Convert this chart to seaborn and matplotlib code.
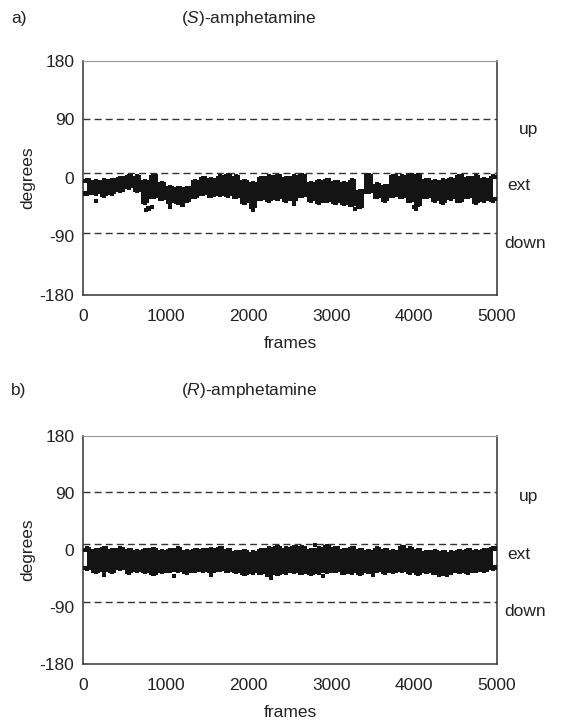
import numpy as np
import pandas as pd
import matplotlib
matplotlib.use("Agg")
import matplotlib.pyplot as plt
import matplotlib.transforms as mtransforms
import seaborn as sns

sns.set_style("white")
plt.rcParams['font.family'] = ['Liberation Sans', 'DejaVu Sans']
plt.rcParams['mathtext.fontset'] = 'custom'
plt.rcParams['mathtext.it'] = 'Liberation Sans:italic'

# ---- data, 100-frame bins ----
bin_centers = list(range(50, 5000, 100))

s_hi = [-3, -5, -4, -3, 0, 3, 2, -5, 3, -8,
        -14, -15, -15, -5, 0, -2, 2, 4, 2, -5,
        -8, 0, 2, 3, 0, 2, 4, -8, -5, -3,
        -6, -8, -4, -20, 4, -10, -12, 3, 2, 5,
        4, -3, -5, -4, -2, 3, 0, 2, -2, 2]
s_lo = [-25, -24, -27, -24, -20, -15, -20, -38, -30, -33,
        -38, -38, -36, -30, -25, -28, -26, -27, -30, -38,
        -45, -33, -35, -32, -35, -34, -28, -35, -38, -36,
        -38, -40, -42, -45, -22, -30, -35, -28, -30, -36,
        -42, -30, -35, -38, -32, -36, -30, -38, -35, -35]
s_out_x = [150, 760, 790, 830, 1050, 1200, 2050, 2550, 3290, 4000, 4020]
s_out_y = [-36, -50, -47, -45, -45, -42, -50, -40, -48, -45, -47]

r_hi = [2, 0, 3, 0, 2, 0, -2, 0, 1, -2,
        0, 2, -2, 0, 0, 1, 3, 0, -3, -2,
        -4, 0, 2, 4, 2, 5, 4, 0, 2, 6,
        3, 0, 3, 0, -2, 2, 0, -2, 5, 2,
        0, -3, -2, -3, -4, -2, 0, -2, 0, 3]
r_lo = [-30, -35, -33, -35, -30, -36, -33, -35, -38, -35,
        -34, -33, -36, -34, -33, -35, -32, -34, -35, -38,
        -36, -37, -40, -38, -36, -35, -37, -38, -36, -35,
        -34, -37, -36, -38, -35, -34, -36, -35, -33, -36,
        -38, -35, -37, -38, -36, -35, -36, -34, -33, -30]
r_out_x = [250, 1100, 1550, 2270, 2900, 3500, 4300, 4400, 3850, 2800]
r_out_y = [-40, -42, -40, -45, -42, -40, -40, -40, 5, 8]

yticks = [-180, -90, 0, 90, 180]
xticks = [0, 1000, 2000, 3000, 4000, 5000]

panels = [
    dict(letter="a)", name="S", hi=s_hi, lo=s_lo, ox=s_out_x, oy=s_out_y,
         dash=[90, 8, -85],
         labels=[("up", 75, 1.077), ("ext", -12, 1.052), ("down", -101, 1.068)],
         rect=[0.148, 0.592, 0.736, 0.324], title_y=0.974),
    dict(letter="b)", name="R", hi=r_hi, lo=r_lo, ox=r_out_x, oy=r_out_y,
         dash=[91, 10, -82],
         labels=[("up", 85, 1.077), ("ext", -8, 1.052), ("down", -98, 1.068)],
         rect=[0.148, 0.082, 0.736, 0.315], title_y=0.460),
]

fig = plt.figure(figsize=(5.62, 7.23), dpi=100)
dark = "#141414"
txt = "#222222"
fs = 12.5

for p in panels:
    ax = fig.add_axes(p["rect"])
    x = np.array(bin_centers)
    hi = np.array(p["hi"])
    lo = np.array(p["lo"])
    ax.fill_between(x, lo + 2, hi - 2, step="mid", color=dark, lw=0, zorder=2)
    df = pd.DataFrame({"f": np.concatenate([x, x, x - 25, x + 25, x - 25, x + 25]),
                       "d": np.concatenate([hi, lo, hi - 2, hi - 1, lo + 1, lo + 2])})
    sns.scatterplot(data=df, x="f", y="d", ax=ax, color=dark, s=9, marker="s",
                    edgecolor="none", zorder=3, legend=False)
    odf = pd.DataFrame({"f": p["ox"], "d": p["oy"]})
    sns.scatterplot(data=odf, x="f", y="d", ax=ax, color=dark, s=9, marker="s",
                    edgecolor="none", zorder=3, legend=False)
    for yv in p["dash"]:
        ax.axhline(yv, color="#333333", lw=1.0, ls=(0, (5, 3)), zorder=1)
    ax.set_xlim(0, 5000)
    ax.set_ylim(-180, 180)
    ax.set_xticks(xticks)
    ax.set_yticks(yticks)
    ax.set_xticklabels([str(v) for v in xticks], fontsize=fs, color=txt)
    ax.set_yticklabels([str(v) for v in yticks], fontsize=fs, color=txt)
    ax.tick_params(axis="x", direction="out", length=5, width=1, colors="#333333", pad=5)
    ax.tick_params(axis="y", direction="inout", length=7, width=1, colors="#333333", pad=3)
    for t in ax.get_xticklabels() + ax.get_yticklabels():
        t.set_color(txt)
    ax.set_xlabel("frames", fontsize=fs, color=txt, labelpad=9)
    ax.set_ylabel("degrees", fontsize=fs, color=txt, labelpad=3)
    for side in ["left", "bottom", "right"]:
        ax.spines[side].set_color("#333333")
        ax.spines[side].set_linewidth(1.1)
        ax.spines[side].set_visible(True)
    ax.spines["top"].set_color("#999999")
    ax.spines["top"].set_linewidth(0.8)
    ax.spines["top"].set_visible(True)
    trans = mtransforms.blended_transform_factory(ax.transAxes, ax.transData)
    for lab, yv, xv in p["labels"]:
        ax.text(xv, yv, lab, transform=trans, fontsize=fs, color=txt,
                va="center", ha="center", clip_on=False)
    fig.text(0.02, p["title_y"], p["letter"], fontsize=fs, color=txt, va="center")
    fig.text(0.443, p["title_y"], "(" + r"$\mathit{" + p["name"] + r"}$" + ")-amphetamine",
             fontsize=fs, color=txt, va="center", ha="center")

fig.savefig("out.png", dpi=100)
